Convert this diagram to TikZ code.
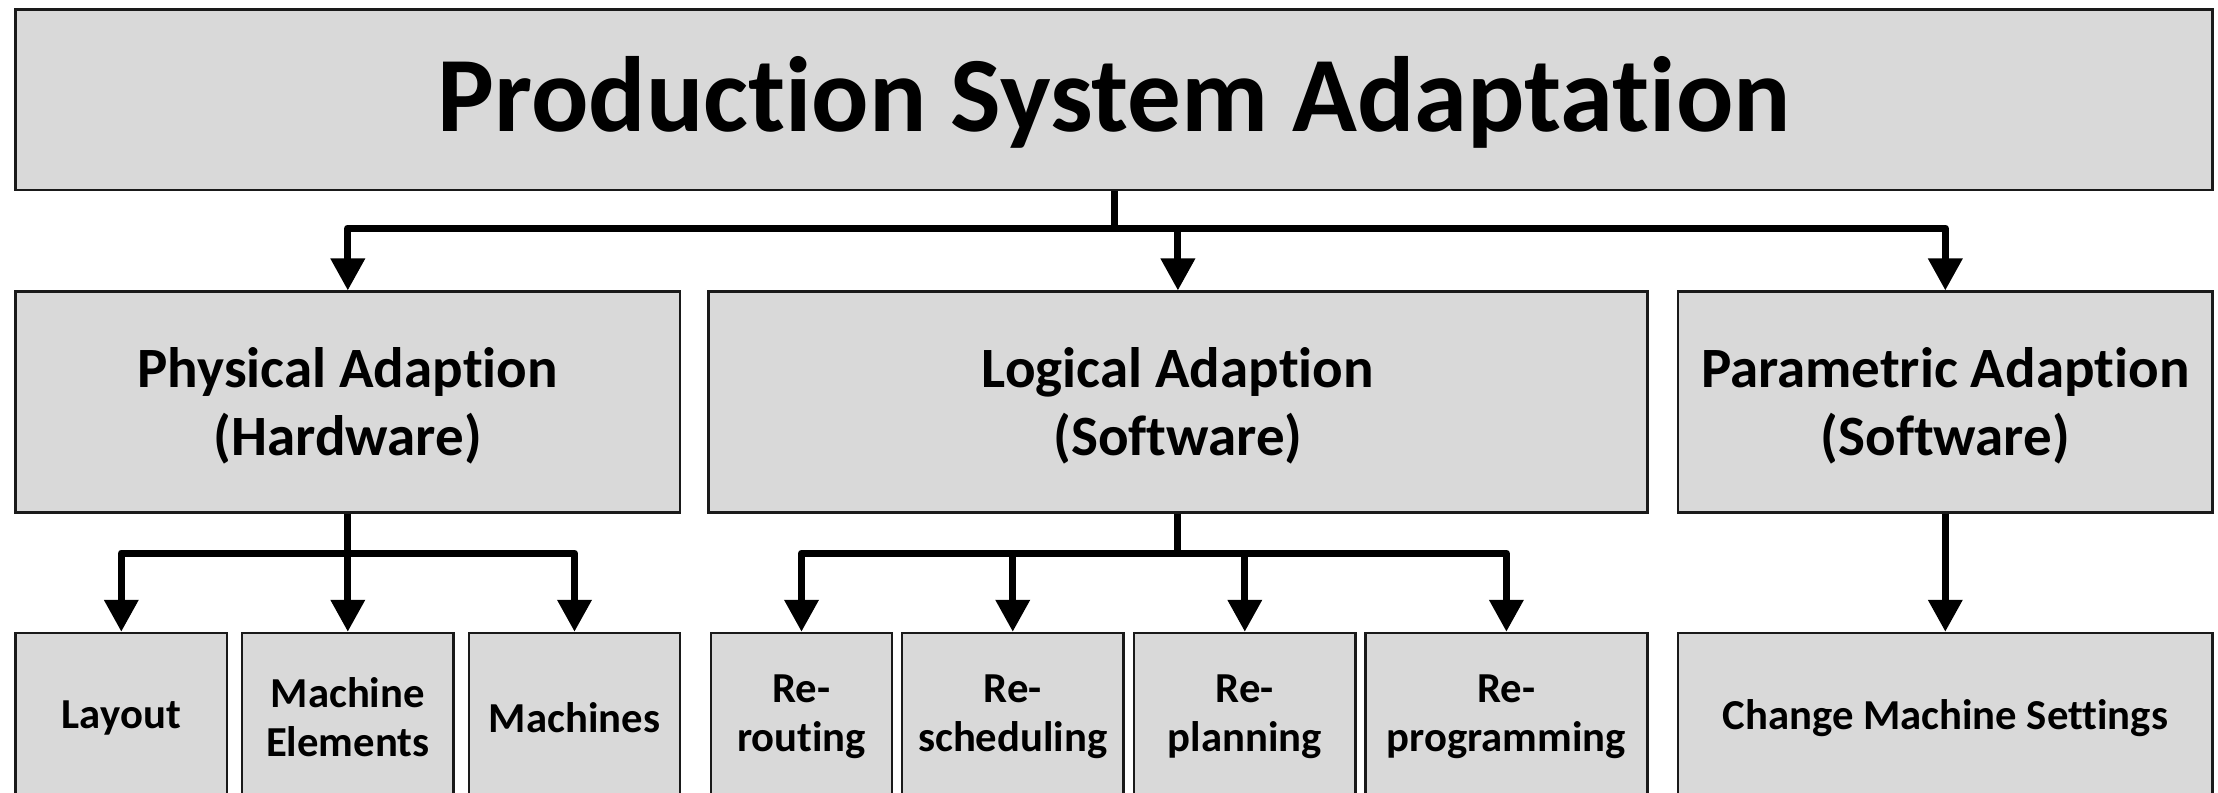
\documentclass[tikz,border=0pt]{standalone}
\usepackage{fontspec}
\setmainfont{Carlito}[Ligatures={NoCommon,NoContextual}]
\usetikzlibrary{arrows.meta}
\definecolor{boxgray}{HTML}{D9D9D9}
\definecolor{boxline}{HTML}{1A1A1A}
\begin{document}
\begin{tikzpicture}[x=1pt,y=-1pt,
  box/.style={draw=boxline, line width=2.5pt, fill=boxgray, inner sep=0pt, align=center},
  titlefont/.style={font=\fontsize{107}{120}\selectfont\bfseries},
  midfont/.style={font=\fontsize{57}{68}\selectfont\bfseries},
  lowfont/.style={font=\fontsize{42.7}{49}\selectfont\bfseries},
  link/.style={line width=7pt, line join=round, draw=black},
  conn/.style={link, -{Triangle[length=32pt,width=33pt]}}]
\useasboundingbox (0,0) rectangle (2218,792);
\clip (0,0) rectangle (2218,792);
% boxes
\node[box, minimum width=2197pt, minimum height=180.5pt] (top) at (1114,99.75) {};
\node[titlefont] (toptext) at (1114,102) {Production System Adaptation};
\node[box, midfont, minimum width=664.4pt, minimum height=221pt] (A) at (347.8,402.2) {};
\node[midfont, align=center] (Atext) at (347.8,406) {Physical Adaption\\(Hardware)};
\node[box, midfont, minimum width=939.3pt, minimum height=221pt] (B) at (1177.9,402.2) {};
\node[midfont, align=center] (Btext) at (1177.9,406) {Logical Adaption\\(Software)};
\node[box, midfont, minimum width=534.5pt, minimum height=221pt] (C) at (1945.3,402.2) {};
\node[midfont, align=center] (Ctext) at (1945.3,406) {Parametric Adaption\\(Software)};
\node[box, lowfont, minimum width=211.4pt, minimum height=167pt] (lay) at (121.3,716.5) {};
\node[lowfont] (laytext) at (121.3,718) {Layout};
\node[box, lowfont, minimum width=211.4pt, minimum height=167pt] (me) at (347.8,716.5) {};
\node[lowfont, align=center] (metext) at (347.8,717) {Machine\\Elements};
\node[box, lowfont, minimum width=211pt, minimum height=167pt] (mach) at (574.5,716.5) {};
\node[lowfont] (machtext) at (574.5,718) {Machines};
\node[box, lowfont, minimum width=181pt, minimum height=167pt] (rr) at (801.5,716.5) {};
\node[lowfont, align=center] (rrtext) at (801.5,717) {Re-\\routing};
\node[box, lowfont, minimum width=221.5pt, minimum height=167pt] (rs) at (1012.75,716.5) {};
\node[lowfont, align=center] (rstext) at (1012.75,717) {Re-\\scheduling};
\node[box, lowfont, minimum width=221.6pt, minimum height=167pt] (rp) at (1244.8,716.5) {};
\node[lowfont, align=center] (rptext) at (1244.8,717) {Re-\\planning};
\node[box, lowfont, minimum width=282.2pt, minimum height=167pt] (rg) at (1506.4,716.5) {};
\node[lowfont, align=center] (rgtext) at (1506.4,717) {Re-\\programming};
\node[box, lowfont, minimum width=534.5pt, minimum height=167pt] (cms) at (1945.3,716.5) {};
\node[lowfont] (cmstext) at (1945.3,718) {Change Machine Settings};
% junctions
\coordinate (j1) at (1114,228);
\coordinate (j2) at (347.8,553);
\coordinate (j3) at (1177.9,553);
% top level connectors
\draw[link] (top.south) -- (j1);
\draw[conn] (j1) -| (A.north);
\draw[conn] (j1) -| (C.north);
\draw[conn] (B.north |- j1) -- (B.north);
% physical
\draw[link] (A.south) -- (j2);
\draw[conn] (j2) -| (lay.north);
\draw[conn] (j2) -| (mach.north);
\draw[conn] (j2) -- (me.north);
% logical
\draw[link] (B.south) -- (j3);
\draw[conn] (j3) -| (rr.north);
\draw[conn] (j3) -| (rs.north);
\draw[conn] (j3) -| (rp.north);
\draw[conn] (j3) -| (rg.north);
% parametric
\draw[conn] (C.south) -- (cms.north);
\end{tikzpicture}
\end{document}
